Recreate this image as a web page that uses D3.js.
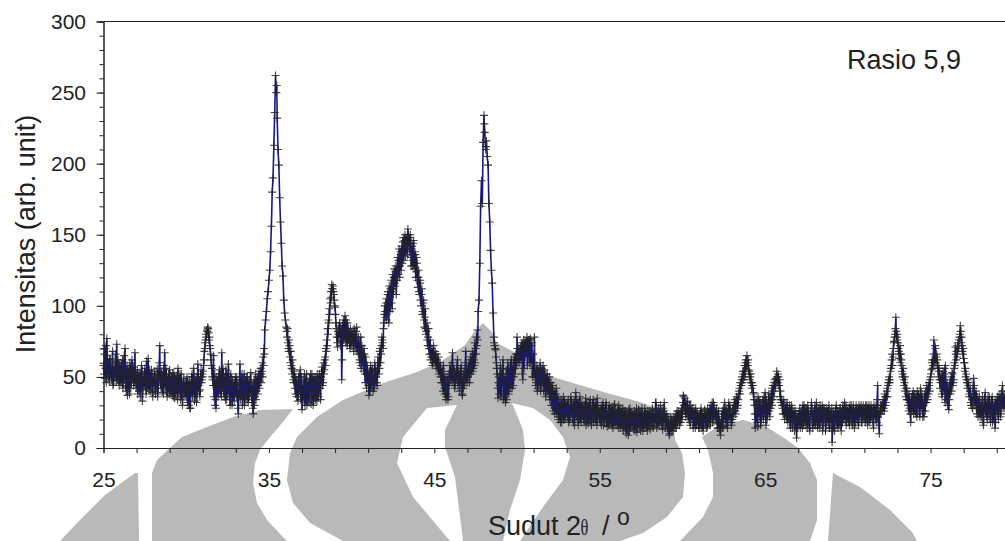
<!DOCTYPE html>
<html>
<head>
<meta charset="utf-8">
<script src="https://cdn.jsdelivr.net/npm/d3@7"></script>
<style>
    html, body { margin: 0; padding: 0; background: #fff; overflow: hidden; }
    text { font-family: "Liberation Sans", Arial, sans-serif; fill: #222; }
</style>
</head>
<body>
<div id="chart"></div>
<script>
    // intensity, one row per degree, 0.05 deg step
    const startAngle = 25;
    const angleStep = 0.05;

    const intensity25to35 = [
        58,66,49,72,77,52,60,47,63,55,50,68,45,57,52,61,73,48,54,44,
        58,51,46,62,49,65,70,43,53,37,56,47,60,42,52,49,57,46,67,51,
        44,55,48,40,53,46,58,33,50,43,56,47,61,45,63,41,52,46,55,39,
        50,44,54,38,47,56,42,51,72,45,53,39,49,58,67,43,52,36,48,44,
        55,41,50,37,46,53,35,48,42,51,56,39,47,34,52,44,38,49,42,46,
        36,50,43,30,47,28,39,52,45,56,33,42,50,38,59,44,48,41,55,48,
        50,58,68,74,80,83,85,81,78,70,62,56,48,65,44,30,28,50,43,47,
        55,38,48,67,42,52,36,47,55,34,50,59,44,30,52,38,48,42,33,46,
        40,50,36,24,45,59,38,48,30,42,52,35,46,38,50,32,47,41,53,37,
        44,24,48,36,52,40,50,44,54,47,56,52,60,64,70,83,90,96,105,110
    ];
    const intensity35to45 = [
        118,125,138,156,180,190,213,236,262,250,232,210,199,176,159,144,128,121,104,95,
        90,85,78,74,68,72,60,58,52,55,46,50,38,47,42,33,50,40,55,36,
        27,44,38,52,34,47,30,42,36,49,44,31,52,38,46,35,50,40,33,48,
        36,52,42,50,57,44,60,55,64,70,76,84,90,98,105,110,115,112,110,104,
        99,88,78,71,80,86,85,75,48,82,90,78,93,74,80,88,76,82,70,78,
        75,80,72,84,78,70,85,74,66,72,62,78,58,65,60,70,52,64,42,58,
        52,37,48,58,44,55,40,50,60,46,54,44,64,52,68,60,72,76,70,88,
        100,92,105,96,110,88,104,112,118,98,112,120,116,124,108,118,126,132,120,138,
        125,140,145,132,146,135,148,142,154,144,138,150,128,142,132,146,130,136,124,130,
        113,125,108,118,100,112,96,104,85,98,80,88,72,84,66,76,64,70,60,72
    ];
    const intensity45to55 = [
        63,68,58,66,60,64,55,60,56,52,46,58,42,50,34,38,45,36,52,58,
        50,48,67,52,55,44,50,54,62,48,52,46,56,50,37,42,54,48,68,50,
        56,52,60,54,64,58,68,56,62,74,70,78,83,96,104,130,170,188,172,215,
        234,222,210,216,205,199,172,159,139,125,116,95,78,72,69,60,52,35,50,44,
        58,40,52,62,36,48,32,55,44,60,38,52,46,62,42,58,50,64,56,60,
        78,62,70,64,72,66,74,48,76,68,75,70,78,72,76,60,77,62,74,56,
        60,78,52,46,58,42,54,47,60,44,56,50,40,55,46,52,40,48,42,50,
        38,46,34,44,30,40,28,38,24,35,20,32,22,30,18,28,36,20,31,24,
        30,22,34,19,28,36,24,30,18,33,26,39,22,30,16,27,36,20,29,23,
        30,18,26,35,22,28,17,32,24,29,16,26,34,21,28,19,30,35,23,27
    ];
    const intensity55to65 = [
        20,28,16,25,32,18,26,22,30,15,24,28,17,26,21,29,14,25,31,19,
        24,16,27,30,20,14,25,18,28,22,15,26,10,23,17,27,12,21,25,16,
        22,13,26,18,24,11,20,27,15,23,19,28,12,22,17,25,14,21,26,16,
        22,13,24,18,27,15,22,20,32,14,22,28,17,24,26,19,13,26,32,21,
        18,24,14,20,9,16,22,12,18,15,21,14,24,17,22,26,20,25,18,28,
        24,37,30,35,22,28,33,20,27,18,30,23,26,14,24,20,28,16,25,19,
        22,14,26,18,24,12,21,27,16,23,15,25,20,28,18,24,32,20,30,26,
        22,28,17,24,14,20,9,18,26,15,24,32,20,28,16,24,32,22,27,18,
        24,28,22,30,26,32,35,30,38,42,46,44,50,54,48,58,60,56,65,58,
        55,52,50,46,46,44,39,30,14,34,24,15,33,22,30,18,28,34,20,30
    ];
    const intensity65to75 = [
        39,16,30,24,34,26,36,28,42,34,40,46,44,49,54,46,50,44,36,32,
        34,28,30,24,26,30,20,28,22,26,18,24,30,14,22,26,16,24,7,20,
        24,16,28,20,26,14,22,30,18,24,28,14,26,20,12,24,32,18,26,20,
        30,16,32,24,18,28,14,26,22,30,16,24,28,12,22,26,18,30,14,24,
        22,4,18,26,12,24,30,20,14,26,18,28,12,24,30,20,32,24,16,28,
        22,28,16,26,30,18,24,28,14,26,30,20,26,16,28,24,30,18,26,22,
        28,18,26,30,16,24,28,20,30,22,26,14,28,24,30,18,44,24,10,26,
        24,30,28,32,26,36,32,40,36,46,50,48,56,62,58,70,75,80,92,78,
        80,70,63,72,66,58,50,56,44,50,36,42,34,30,38,28,18,36,30,40,
        28,38,24,34,40,28,36,22,42,30,34,26,22,38,40,32,36,42,46,40
    ];
    const intensity75to80 = [
        50,55,62,58,76,60,70,64,62,58,54,48,46,52,36,54,40,56,58,34,
        46,40,27,46,38,50,53,44,48,60,71,62,64,74,70,78,86,74,72,66,
        63,60,56,52,46,48,44,38,42,30,34,28,49,36,32,40,24,34,28,36,
        22,32,26,36,16,28,39,24,32,20,30,36,22,28,34,18,30,24,14,34,
        26,36,20,30,38,24,32,44,34,28,38
    ];

    // the points in between, half a step later, read the same way
    // null: the two sharp peaks show no marker there
    const halfStep25to45 = [
        52,70,56,46,65,58,50,62,53,48,60,44,55,50,66,47,56,62,50,58,
        46,60,53,42,56,48,52,40,58,44,50,38,54,46,62,50,44,55,48,42,
        52,38,50,44,36,48,54,41,46,52,44,38,50,42,48,55,40,46,52,36,
        46,52,40,48,44,36,52,60,48,42,54,46,38,50,44,56,40,46,52,38,
        48,40,44,52,36,42,50,38,46,34,48,42,52,36,44,30,46,40,36,44,
        42,32,46,38,28,44,50,36,42,48,38,46,32,44,52,40,36,50,46,52,
        54,62,70,76,78,82,84,76,72,66,58,50,44,36,52,34,46,40,36,50,
        44,52,36,46,56,40,50,34,44,52,38,46,36,50,42,30,46,36,44,50,
        36,44,28,38,48,34,44,52,36,46,30,42,50,34,46,40,36,48,42,32,
        28,40,30,46,34,44,38,48,42,50,46,54,50,58,66,null,null,null,null,null,
        null,null,null,null,null,null,null,null,null,255,null,null,null,null,null,null,null,null,null,null,
        null,82,84,70,76,64,68,56,62,48,54,42,50,36,46,38,52,44,34,50,
        40,34,48,30,44,52,36,46,32,40,52,36,46,30,50,40,34,46,52,38,
        44,50,34,48,54,46,52,62,58,68,72,80,88,94,102,106,112,114,108,100,
        94,84,74,82,78,88,72,84,62,86,76,88,82,90,72,84,78,74,84,72,
        82,76,68,80,74,82,68,72,78,60,70,56,72,64,54,66,46,60,52,48,
        44,54,40,50,46,56,48,42,54,50,46,58,60,56,70,66,78,74,84,94,
        96,102,90,108,100,114,96,110,102,122,108,126,114,128,118,134,122,140,128,136,
        142,130,148,138,150,140,146,136,150,148,140,146,134,128,144,126,138,120,134,118,
        120,110,116,104,108,94,102,90,92,84,82,76,78,70,72,62,66,58,64,60
    ];
    const halfStep45to65 = [
        66,60,62,56,58,52,54,50,46,54,40,48,38,42,36,50,34,44,54,48,
        54,60,46,56,42,52,48,58,44,54,40,50,58,38,46,52,44,60,52,46,
        50,58,46,62,52,60,54,66,58,60,66,72,76,null,null,null,null,null,null,null,
        228,null,212,null,null,null,null,null,null,null,null,null,74,70,64,56,42,46,38,52,
        36,46,56,34,50,38,44,34,52,40,56,42,60,48,54,44,62,52,66,58,
        70,66,60,68,62,70,52,72,56,74,64,72,58,74,68,76,60,72,50,66,
        50,56,44,52,40,56,44,52,40,54,46,58,44,50,36,46,52,38,44,34,
        42,30,40,26,36,24,34,42,28,36,22,30,18,34,24,30,20,34,22,30,
        24,32,18,28,22,34,28,20,30,16,28,22,34,26,32,20,28,18,32,24,
        20,30,24,16,32,22,28,20,34,18,26,30,18,24,32,22,16,28,24,20,
        26,18,30,22,16,28,20,32,18,24,16,30,22,28,16,24,20,30,16,26,
        20,26,14,24,18,28,16,22,12,26,20,14,24,18,9,22,28,14,20,24,
        16,24,12,20,28,14,22,16,26,12,24,18,22,14,28,18,24,12,22,18,
        26,16,22,28,14,24,18,32,20,26,16,24,20,30,16,22,28,18,24,14,
        22,18,12,16,10,20,14,18,12,22,16,20,14,26,18,24,16,22,26,20,
        32,36,26,30,24,32,26,22,30,16,26,20,28,18,26,14,24,18,22,14,
        24,18,28,14,22,16,26,20,24,14,28,18,24,16,30,22,18,32,24,20,
        26,20,14,26,18,12,16,22,14,28,20,26,18,24,14,28,20,30,24,16,
        20,30,26,34,24,36,28,34,40,38,44,48,46,52,54,50,62,58,60,62,
        54,48,52,42,44,38,34,24,20,30,18,36,26,34,16,26,32,22,36,24
    ];
    const halfStep65to80 = [
        28,34,20,28,38,22,32,38,30,44,36,48,42,46,50,52,44,48,40,34,
        30,24,34,20,28,24,32,18,26,30,14,28,22,26,20,12,26,18,22,14,
        20,26,14,24,18,30,16,24,28,16,22,30,18,14,26,22,28,14,24,16,
        26,20,28,14,26,22,30,18,24,12,28,20,26,16,28,20,24,14,26,18,
        28,12,24,14,22,28,16,26,22,16,28,18,26,18,24,28,20,30,22,26,
        18,24,30,20,26,16,30,20,26,18,24,28,18,30,22,28,18,26,30,20,
        24,30,20,28,22,30,18,26,22,28,18,30,24,20,28,34,22,16,24,30,
        30,26,34,28,38,30,36,42,44,48,46,54,58,66,64,74,78,84,82,76,
        74,68,66,60,62,54,52,48,46,40,42,34,38,26,32,24,34,26,38,24,
        34,26,36,22,32,38,24,34,28,38,22,30,36,26,32,44,34,38,44,48,
        52,60,56,66,62,72,60,66,56,50,56,42,48,38,50,44,52,32,46,38,
        30,42,34,44,48,40,52,46,56,58,66,68,72,70,76,80,82,78,68,70,
        60,54,50,48,42,46,36,40,32,36,28,42,44,30,38,28,36,22,32,24,
        28,22,34,18,26,34,28,22,30,36,24,32,18,30,36,24,20,32,18,28,
        32,24,36,28,22,34,40,28,36,32
    ];

    const xMinorTicks = d3.range(25, 80, 2);
    const xLabelTicks = [25, 35, 45, 55, 65, 75];
    const yMinorTicks = d3.range(0, 301, 10);
    const yMajorTicks = [0, 50, 100, 150, 200, 250, 300];

    const onStep = [].concat(intensity25to35, intensity35to45, intensity45to55,
        intensity55to65, intensity65to75, intensity75to80);
    const offStep = [].concat(halfStep25to45, halfStep45to65, halfStep65to80);
    const points = onStep.map((v, i) => ({ angle: startAngle + i * angleStep, value: v }))
        .concat(offStep.map((v, i) => ({ angle: startAngle + (i + 0.5) * angleStep, value: v })))
        .filter(d => d.value !== null)
        .sort((a, b) => a.angle - b.angle);

    // gray logo behind the plot, in page pixels
    const WATERMARK_GRAY = "#b9b9b9";
    const watermarkShapes = [
        [[60,541],[80,520],[105,495],[135,473],[138,473],[139,541]],
        [[152,541],[152,473],[157,460],[170,448],[182,437],[207,427],[233,417],[260,410],[293,409],
         [283,422],[270,437],[260,450],[255,463],[253,483],[257,503],[267,520],[283,537],[287,541]],
        [[343,541],[310,523],[293,503],[287,480],[290,453],[297,437],[317,417],[343,400],[383,383],
         [417,372],[440,362],[465,345],[474,332],[483,323],[492,332],[497,343],[520,355],[537,372],
         [553,377],[573,383],[607,393],[640,402],[673,415],[675,440],[682,453],[685,473],[683,497],
         [667,517],[643,533],[620,541]],
        [[680,541],[703,517],[713,497],[713,473],[708,450],[702,437],[720,425],[743,420],[767,427],
         [787,440],[798,448],[810,463],[817,480],[817,520],[810,541]],
        [[828,541],[833,473],[860,487],[890,510],[912,532],[917,541]]
    ];
    const watermarkCuts = [
        [[457,405],[427,408],[403,437],[397,463],[413,497],[450,541],[463,541],[455,477],[445,447],[445,430]],
        [[512,403],[533,408],[550,420],[563,437],[570,457],[563,480],[543,507],[520,541],[503,541],[510,510],[520,480],[525,450],[523,430]]
    ];

    const width = 1005, height = 541;
    const svg = d3.select("#chart").append("svg").attr("width", width).attr("height", height);

    const xScale = d3.scaleLinear().domain([25, 79.5]).range([103.5, 1005]);
    const yScale = d3.scaleLinear().domain([0, 300]).range([448, 21.5]);

    // watermark first, everything else sits on top of it
    const outline = d3.line().curve(d3.curveLinearClosed);
    svg.append("g").selectAll("path").data(watermarkShapes).enter().append("path")
        .attr("d", outline).attr("fill", WATERMARK_GRAY);
    svg.append("g").selectAll("path").data(watermarkCuts).enter().append("path")
        .attr("d", outline).attr("fill", "#fff");

    // series
    const trace = d3.line().x(d => xScale(d.angle)).y(d => yScale(d.value));
    svg.append("path").datum(points)
        .attr("d", trace).attr("fill", "none")
        .attr("stroke", "#17178a").attr("stroke-width", 1.6);

    svg.append("g").selectAll("path").data(points).enter().append("path")
        .attr("d", "M-4,0H4M0,-4V4")
        .attr("transform", d => `translate(${xScale(d.angle)},${yScale(d.value)})`)
        .attr("fill", "none").attr("stroke", "#222").attr("stroke-width", 1.1).attr("stroke-opacity", 0.85);

    // axes
    let xAxis = d3.axisBottom(xScale).tickValues(xMinorTicks).tickSizeOuter(0).tickSize(5)
        .tickPadding(19).tickFormat(d => xLabelTicks.includes(d) ? d : "");
    let yMinor = d3.axisLeft(yScale).tickValues(yMinorTicks).tickSizeOuter(0).tickSize(4).tickFormat("");
    let yMajor = d3.axisLeft(yScale).tickValues(yMajorTicks).tickSizeOuter(0).tickSize(7).tickPadding(10.5);

    svg.append("g").attr("transform", "translate(0,448)").call(xAxis);
    svg.append("g").attr("transform", "translate(103.5,0)").call(yMinor);
    svg.append("g").attr("transform", "translate(103.5,0)").call(yMajor);
    svg.append("line").attr("x1", 103.5).attr("x2", 1005).attr("y1", 21.5).attr("y2", 21.5).attr("stroke", "#222");
    svg.selectAll(".domain, .tick line").attr("stroke", "#222");
    svg.selectAll(".tick text").style("font-size", "21px").style("font-family", "'Liberation Sans', Arial, sans-serif").attr("fill", "#222");

    // labels
    svg.append("text").attr("transform", "translate(34.5,234) rotate(-90)")
        .attr("text-anchor", "middle").style("font-size", "27px").text("Intensitas (arb. unit)");
    svg.append("text").attr("x", 847).attr("y", 69).style("font-size", "27px").text("Rasio 5,9");

    svg.append("text").attr("x", 488).attr("y", 535).style("font-size", "27px").text("Sudut 2");
    // the theta in the picture is tall and narrow
    svg.append("text").attr("transform", "translate(580.5,535) scale(0.68,1)")
        .style("font-size", "24px").style("font-family", "'Liberation Serif', serif").text("θ");
    svg.append("text").attr("x", 602).attr("y", 535).style("font-size", "27px").text("/");
    svg.append("text").attr("x", 617).attr("y", 525).style("font-size", "23px").text("o");
</script>
</body>
</html>
